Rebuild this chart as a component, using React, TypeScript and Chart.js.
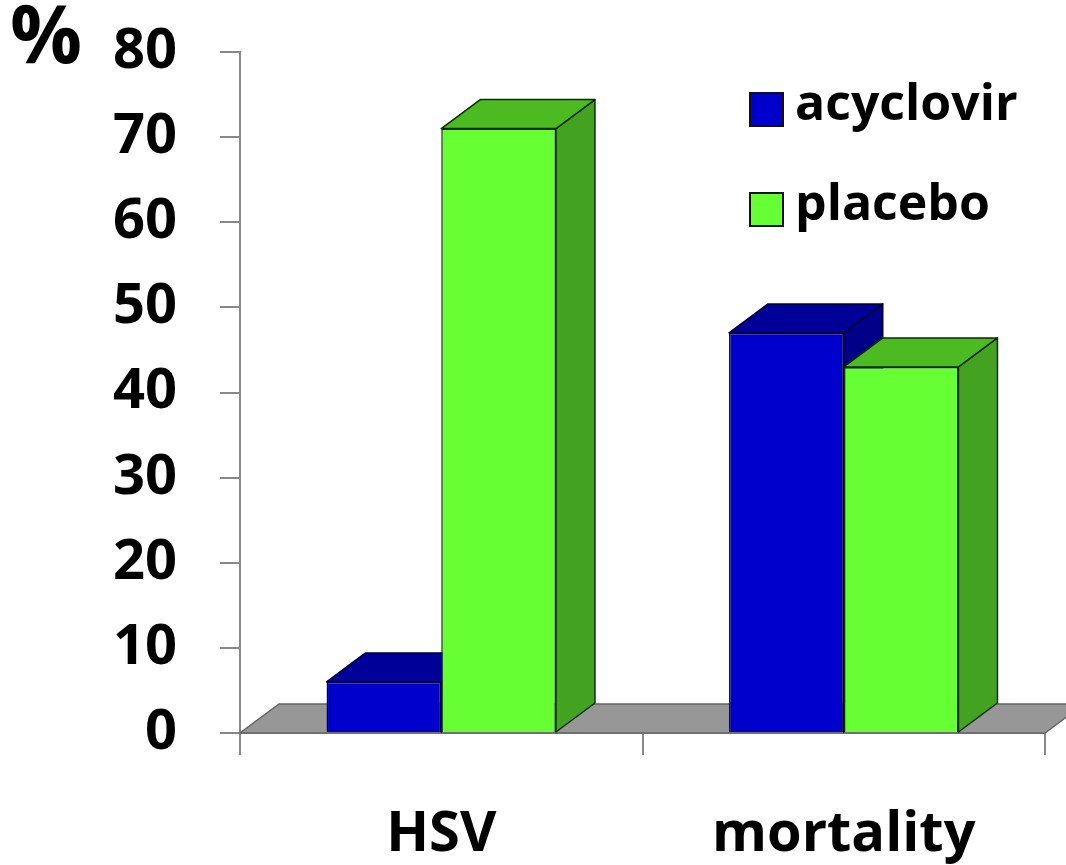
import { useEffect, useRef } from "react";
import { Chart, registerables } from "chart.js";

Chart.register(...registerables);

// Data
const categories = ["HSV", "mortality"];
const seriesNames = ["acyclovir", "placebo"];
const acyclovir = [6, 47];
const placebo = [71, 43];
const yMin = 0;
const yMax = 80;
const yStep = 10;

// Styling
const FONT = "'Open Sans', 'DejaVu Sans', sans-serif";
const DEPTH_X = 39;
const DEPTH_Y = 29;
const faceColors = ["#0000cc", "#66ff33"];
const topColors = ["#000099", "#4cbb22"];
const sideColors = ["#000088", "#43a21f"];
const edgeColors = ["#000033", "#0d2a05"];

type BarGeom = { x: number; y: number; base: number; width: number; ds: number };

const extrudePlugin = {
  id: "extrude3d",
  beforeDatasetsDraw(chart: any) {
    const { ctx, chartArea, scales } = chart;
    const y0 = scales.y.getPixelForValue(0);
    ctx.save();
    // floor slab
    ctx.beginPath();
    ctx.moveTo(chartArea.left, y0);
    ctx.lineTo(chartArea.right, y0);
    ctx.lineTo(chartArea.right + DEPTH_X, y0 - DEPTH_Y);
    ctx.lineTo(chartArea.left + DEPTH_X, y0 - DEPTH_Y);
    ctx.closePath();
    ctx.fillStyle = "#979797";
    ctx.fill();
    ctx.strokeStyle = "#666666";
    ctx.lineWidth = 1.5;
    ctx.stroke();

    const bars: BarGeom[] = [];
    chart.data.datasets.forEach((_d: any, di: number) => {
      const meta = chart.getDatasetMeta(di);
      meta.data.forEach((el: any) => {
        const p = el.getProps(["x", "y", "base", "width"], true);
        bars.push({ x: p.x, y: p.y, base: p.base, width: p.width, ds: di });
      });
    });
    bars.sort((a, b) => a.x - b.x);
    ctx.lineJoin = "round";
    for (const b of bars) {
      const l = b.x - b.width / 2;
      const r = b.x + b.width / 2;
      // side face
      ctx.beginPath();
      ctx.moveTo(r, b.y);
      ctx.lineTo(r + DEPTH_X, b.y - DEPTH_Y);
      ctx.lineTo(r + DEPTH_X, b.base - DEPTH_Y);
      ctx.lineTo(r, b.base);
      ctx.closePath();
      ctx.fillStyle = sideColors[b.ds];
      ctx.fill();
      ctx.strokeStyle = edgeColors[b.ds];
      ctx.lineWidth = 1.5;
      ctx.stroke();
      // top face
      ctx.beginPath();
      ctx.moveTo(l, b.y);
      ctx.lineTo(r, b.y);
      ctx.lineTo(r + DEPTH_X, b.y - DEPTH_Y);
      ctx.lineTo(l + DEPTH_X, b.y - DEPTH_Y);
      ctx.closePath();
      ctx.fillStyle = topColors[b.ds];
      ctx.fill();
      ctx.stroke();
    }
    ctx.restore();
  },
  afterDraw(chart: any) {
    const { ctx } = chart;
    ctx.save();
    // unit label
    ctx.fillStyle = "#000";
    ctx.font = `bold 80px ${FONT}`;
    ctx.textBaseline = "top";
    ctx.textAlign = "left";
    ctx.fillText("%", 10, 0);
    // legend
    chart.data.datasets.forEach((d: any, i: number) => {
      const bx = 750;
      const by = 93 + i * 100;
      ctx.fillStyle = faceColors[i];
      ctx.fillRect(bx, by, 33, 33);
      ctx.strokeStyle = "#111";
      ctx.lineWidth = 2;
      ctx.strokeRect(bx, by, 33, 33);
      ctx.fillStyle = "#000";
      ctx.font = `bold 50px ${FONT}`;
      ctx.textBaseline = "middle";
      ctx.fillText(d.label, 795, by + 13);
    });
    ctx.restore();
  },
};

export default function App() {
  const ref = useRef<HTMLCanvasElement | null>(null);

  useEffect(() => {
    if (!ref.current) return;
    const chart = new Chart(ref.current, {
      type: "bar",
      data: {
        labels: categories,
        datasets: [
          {
            label: seriesNames[0],
            data: acyclovir,
            backgroundColor: faceColors[0],
            borderColor: edgeColors[0],
            borderWidth: 1.5,
          },
          {
            label: seriesNames[1],
            data: placebo,
            backgroundColor: faceColors[1],
            borderColor: edgeColors[1],
            borderWidth: 1.5,
          },
        ],
      },
      options: {
        responsive: false,
        animation: false,
        layout: { padding: { top: 52, right: 21, left: 0, bottom: 0 } },
        datasets: { bar: { categoryPercentage: 0.57, barPercentage: 1 } },
        plugins: {
          legend: { display: false },
          tooltip: { enabled: false },
        },
        scales: {
          x: {
            offset: true,
            grid: {
              offset: true,
              drawOnChartArea: false,
              drawTicks: true,
              tickLength: 22,
              color: "#888",
              lineWidth: 2,
            },
            border: { display: true, color: "#888", width: 2 },
            ticks: {
              color: "#000",
              padding: 46,
              font: { family: FONT, size: 56, weight: "bold" },
            },
            afterFit: (s: any) => {
              s.height = 132;
              s.paddingLeft = 0;
              s.paddingRight = 0;
            },
          },
          y: {
            min: yMin,
            max: yMax,
            ticks: {
              stepSize: yStep,
              color: "#000",
              padding: 43,
              font: { family: FONT, size: 56, weight: "bold" },
            },
            grid: {
              drawOnChartArea: false,
              drawTicks: true,
              tickLength: 20,
              color: "#888",
              lineWidth: 2,
            },
            border: { display: true, color: "#888", width: 2 },
            afterFit: (s: any) => {
              s.width = 240;
              s.paddingTop = 0;
              s.paddingBottom = 0;
            },
          },
        },
      },
      plugins: [extrudePlugin],
    });
    return () => chart.destroy();
  }, []);

  return (
    <div style={{ position: "fixed", left: 0, top: 0, width: 1066, height: 865, background: "#fff" }}>
      <canvas ref={ref} width={1066} height={865} style={{ display: "block" }} />
    </div>
  );
}
